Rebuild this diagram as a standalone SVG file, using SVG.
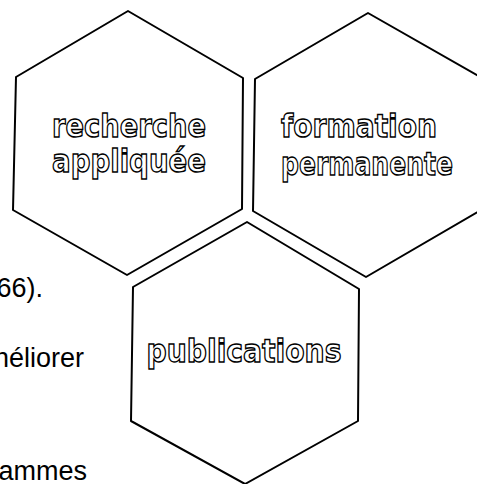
<svg xmlns="http://www.w3.org/2000/svg" width="477" height="484" viewBox="0 0 477 484">
<style>
.hex{fill:none;stroke:#000;stroke-width:2;stroke-linejoin:round}
.lbl{font-family:"DejaVu Sans",sans-serif;font-weight:bold;font-size:32px;fill:#fff;stroke:#000;stroke-width:1.4;text-anchor:middle}
.body{font-family:"Liberation Sans",Arial,sans-serif;font-size:27px;fill:#000;text-anchor:end}
</style>
<rect width="477" height="484" fill="#fff"/>
<g id="text-left">
<text class="body" x="43" y="297">66).</text>
<text class="body" x="84" y="367">néliorer</text>
<text class="body" x="87" y="480">rammes</text>
</g>
<g id="node-recherche">
<polygon class="hex" points="128,11 243,78 242,209 127,275 13,210 16,77"/>
<text class="lbl" x="129" y="137" textLength="154" lengthAdjust="spacingAndGlyphs">recherche</text>
<text class="lbl" x="129" y="172" textLength="154" lengthAdjust="spacingAndGlyphs">appliquée</text>
</g>
<g id="node-formation">
<polygon class="hex" points="368,13 482,78 481,210 366,277 253,211 255,79"/>
<text class="lbl" x="359" y="137" textLength="156" lengthAdjust="spacingAndGlyphs">formation</text>
<text class="lbl" x="367" y="175" textLength="172" lengthAdjust="spacingAndGlyphs">permanente</text>
</g>
<g id="node-publications">
<polygon class="hex" points="247,222 359,289 358,421 245,484 131,421 133,287"/>
<text class="lbl" x="244" y="362" textLength="195" lengthAdjust="spacingAndGlyphs">publications</text>
</g>
<g id="connectors"/>
</svg>
